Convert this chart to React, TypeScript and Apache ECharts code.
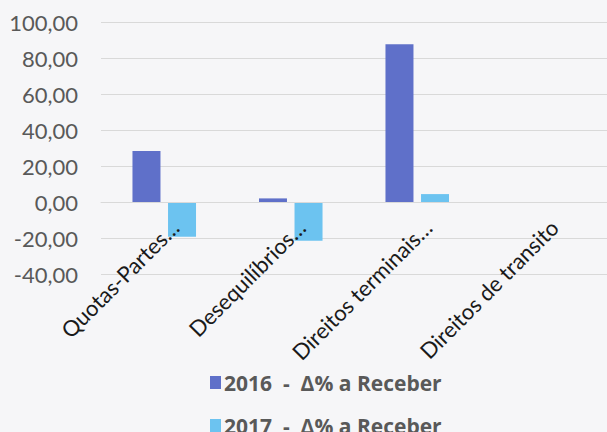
import React, { useEffect, useRef } from "react";
import * as echarts from "echarts";

const categories = ["Quotas-Partes…", "Desequilíbrios…", "Direitos terminais…", "Direitos de transito"];
const seriesNames = ["2016  -  Δ% a Receber", "2017  -  Δ% a Receber"];
const values2016 = [28.3, 2.0, 87.6, null];
const values2017 = [-19.3, -21.5, 4.4, null];
const yTicks = { min: -40, max: 100, interval: 20 };

export default function App() {
  const ref = useRef<HTMLDivElement>(null);
  useEffect(() => {
    document.body.style.margin = "0";
    const chart = echarts.init(ref.current!, null, { renderer: "svg" });
    chart.setOption({
      animation: false,
      backgroundColor: "#f6f6f8",
      textStyle: { fontFamily: "Lato" },
      grid: { left: 101, right: 0, top: 22, bottom: 158, containLabel: false },
      legend: {
        orient: "vertical",
        left: 210,
        top: 372,
        height: 75,
        padding: 0,
        itemWidth: 11,
        itemHeight: 13,
        itemGap: 22,
        icon: "rect",
        textStyle: { fontSize: 21, fontWeight: "bold", color: "#595959", fontFamily: "Open Sans", padding: [0, 0, 0, -2] },
        data: seriesNames,
      },
      xAxis: {
        type: "category",
        data: categories,
        offset: -72,
        z: 5,
        axisLine: { onZero: false, lineStyle: { color: "#d9d9d9" } },
        axisTick: { show: false },
        axisLabel: {
          rotate: 45,
          interval: 0,
          margin: 11,
          lineHeight: 30,
          fontSize: 22,
          color: "#1a1a1a",
          fontFamily: "Lato",
          formatter: (v: string) => "\n" + v,
        },
      },
      yAxis: {
        type: "value",
        min: yTicks.min,
        max: yTicks.max,
        interval: yTicks.interval,
        axisLine: { show: false },
        axisTick: { show: false },
        splitLine: { lineStyle: { color: "#d9d9d9" } },
        axisLabel: {
          margin: 23,
          fontSize: 22,
          color: "#595959",
          fontFamily: "Lato",
          formatter: (v: number) => v.toFixed(2).replace(".", ","),
        },
      },
      series: [
        { name: seriesNames[0], type: "bar", data: values2016, barWidth: 28, barGap: "27%", itemStyle: { color: "#5f70c9" } },
        { name: seriesNames[1], type: "bar", data: values2017, barWidth: 28, barGap: "27%", itemStyle: { color: "#6cc3f0" } },
      ],
    });
    return () => chart.dispose();
  }, []);
  return <div ref={ref} style={{ position: "absolute", left: 0, top: 0, width: 607, height: 432 }} />;
}
